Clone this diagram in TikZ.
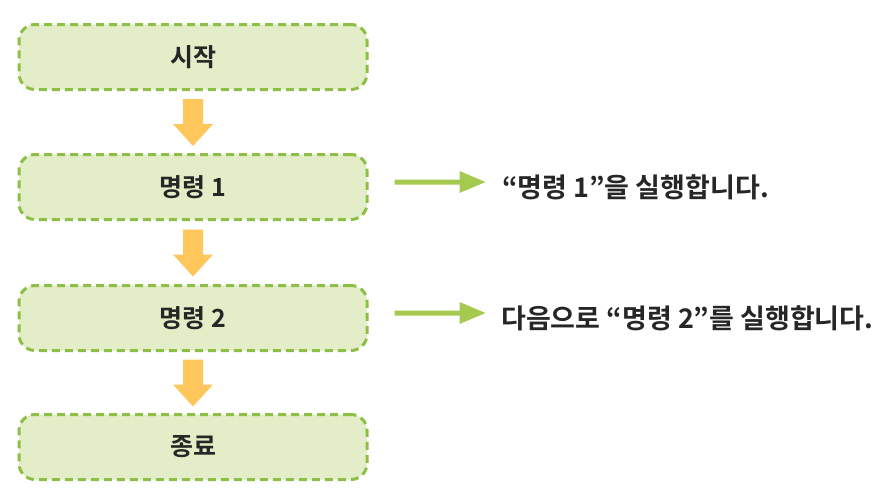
\documentclass[tikz,border=0pt]{standalone}
\usepackage{fontspec}
\usetikzlibrary{calc}
\newfontfamily\kr{Noto Sans CJK KR Bold}
\begin{document}
\begin{tikzpicture}[x=1pt,y=-1pt,
  stepbox/.style={draw=boxline,fill=boxfill,line width=3pt,dash pattern=on 8pt off 5pt,rounded corners=16pt,minimum width=348pt,minimum height=65pt,inner sep=0pt,font=\kr\fontsize{25}{28}\selectfont,text=black!85},
  desc/.style={anchor=west,inner sep=0pt,font=\kr\fontsize{27}{30}\selectfont,text=black!85},
  downarrow/.style={fill=arrowor,draw=none},
  rightarrow/.style={fill=arrowgr,draw=none}]
\definecolor{boxfill}{HTML}{E3EEC9}
\definecolor{boxline}{HTML}{8DBE45}
\definecolor{arrowor}{HTML}{FFC65C}
\definecolor{arrowgr}{HTML}{A6C94F}
\useasboundingbox (0,0) rectangle (886,501);
\node[stepbox] (s) at (193,57) {시작};
\node[stepbox] (c1) at (193,187) {명령 1};
\node[stepbox] (c2) at (193,318) {명령 2};
\node[stepbox] (e) at (193,447) {종료};
\node[desc] (d1) at (502,187) {“명령 1”을 실행합니다.};
\node[desc] (d2) at (501,318) {다음으로 “명령 2”를 실행합니다.};
% down arrows
\foreach \a/\b in {s/c1,c1/c2,c2/e}{
  \path ($(\a.south)!0.5!(\b.north)$) coordinate (m);
  \fill[downarrow] ([xshift=-10pt,yshift=23pt]m) -- ([xshift=10pt,yshift=23pt]m) -- ([xshift=10pt,yshift=-2pt]m) -- ([xshift=20pt,yshift=-2pt]m) -- ([yshift=-24pt]m) -- ([xshift=-20pt,yshift=-2pt]m) -- ([xshift=-10pt,yshift=-2pt]m) -- cycle;
}
% right arrows
\foreach \n in {c1,c2}{
  \path ([xshift=26pt]\n.east) coordinate (a);
  \fill[rightarrow] ([yshift=2.5pt]a) -- ++(65,0) -- ++(0,8.5) -- ++(26,-11) -- ++(-26,-11) -- ++(0,8.5) -- ++(-65,0) -- cycle;
}
\end{tikzpicture}
\end{document}
